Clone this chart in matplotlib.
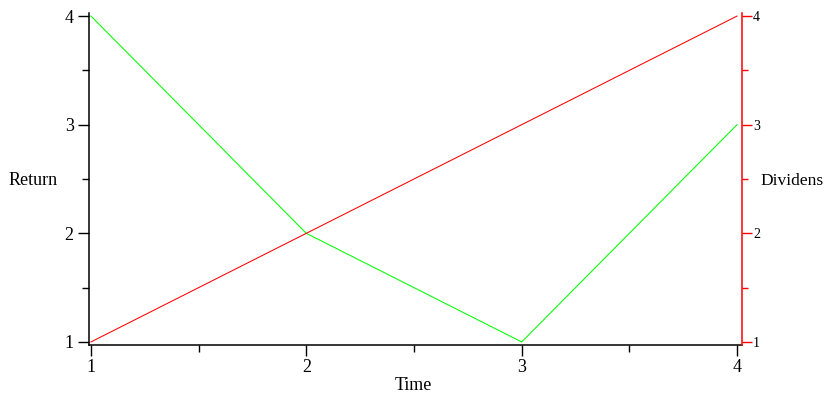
import matplotlib
matplotlib.use("Agg")
import matplotlib.pyplot as plt
from matplotlib.ticker import MultipleLocator

time = [1, 2, 3, 4]
returns = [4, 2, 1, 3]
dividends = [1, 2, 3, 4]
ticks = [1, 2, 3, 4]
tick_labels = ["1", "2", "3", "4"]

plt.rcParams['font.family'] = ['Liberation Serif', 'DejaVu Serif']

W, H = 834, 400
fig = plt.figure(figsize=(W / 100, H / 100), dpi=100)
L, R, T, B = 89, 742, 13, 345
ax = fig.add_axes([L / W, (H - B) / H, (R - L) / W, (B - T) / H])

ax.plot(time, returns, color='#00ff00', lw=0.75)
ax.set_xlim(0.991, 4.023)
ax.set_ylim(0.972, 4.028)
ax.spines['top'].set_visible(False)
ax.spines['right'].set_visible(False)
for s in ('left', 'bottom'):
    ax.spines[s].set_linewidth(1.1)
ax.set_xticks(ticks)
ax.set_xticklabels(tick_labels)
ax.set_yticks(ticks)
ax.set_yticklabels(tick_labels)
ax.xaxis.set_minor_locator(MultipleLocator(0.5))
ax.yaxis.set_minor_locator(MultipleLocator(0.5))
ax.tick_params(which='major', direction='out', length=8, width=1, labelsize=13, pad=3)
ax.tick_params(which='minor', direction='out', length=5, width=1)
ax.tick_params(axis='x', which='major', pad=2)

ax.set_xlabel('Time', fontsize=13)
ax.xaxis.set_label_coords(0.496, -0.123)
ax.xaxis.label.set_va('center')
ax.set_ylabel('Return', fontsize=13, rotation=0, ha='left', va='center')
ax.yaxis.set_label_coords(-0.124, 0.494)

ax2 = ax.twinx()
ax2.plot(time, dividends, color='#ff0000', lw=0.75)
ax2.set_ylim(0.972, 4.028)
ax2.set_xlim(0.991, 4.023)
for s in ('top', 'left', 'bottom'):
    ax2.spines[s].set_visible(False)
ax2.spines['right'].set_color('#ff0000')
ax2.spines['right'].set_linewidth(1.1)
ax2.set_yticks(ticks)
ax2.set_yticklabels(tick_labels)
ax2.yaxis.set_minor_locator(MultipleLocator(0.5))
ax2.tick_params(which='major', direction='out', length=7, width=1, colors='#ff0000',
                labelcolor='black', labelsize=10, pad=1)
ax2.tick_params(which='minor', direction='out', length=4, width=1, colors='#ff0000')
ax2.set_ylabel('Dividens', fontsize=12.5, rotation=0, ha='left', va='center')
ax2.yaxis.set_label_coords(1.0276, 0.494)

fig.savefig('out.png', dpi=100)
